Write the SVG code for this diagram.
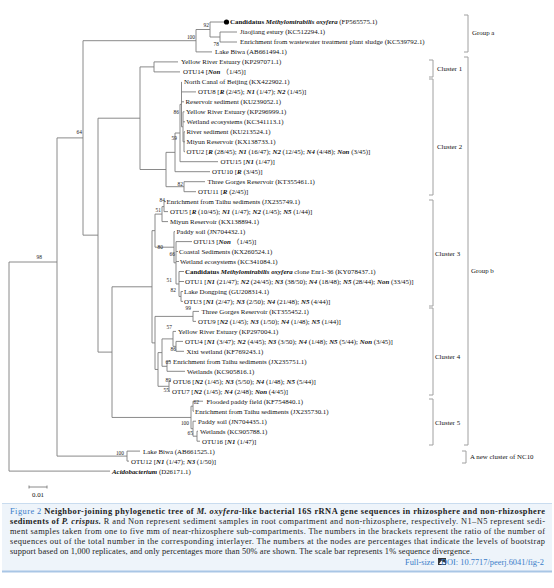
<svg xmlns="http://www.w3.org/2000/svg" width="554" height="588" viewBox="0 0 554 588">
<style>
.t{font-family:"Liberation Serif","Noto Sans CJK SC",serif;font-size:6.9px;fill:#111}
.b{font-weight:bold}.i{font-style:italic}.bi{font-weight:bold;font-style:italic}
.bs{font-family:"Liberation Serif",serif;font-size:5.4px;fill:#222;text-anchor:end}
.ln{fill:none;stroke:#7d7d7d;stroke-width:0.9}
.br{fill:none;stroke:#a0a0a0;stroke-width:1}
.lb{font-family:"Liberation Serif",serif;font-size:6.9px;fill:#111}
.cap{font-family:"Liberation Serif",serif;font-size:8.4px;fill:#222}
.blue{fill:#3a7dc9}
</style>
<rect width="554" height="588" fill="#fff"/>
<g id="connectors">
<path class="ln" d="M9,262V471.1M9,471.1H110M9,262H57
M57,137.9V456.1M57,137.9H83M57,456.1H127
M127,451.1V461.1M127,451.1H140M127,461.1H129
M83,40.7V235.15M83,40.7H196M83,235.15H98
M98,118.2V352.1M98,118.2H140M98,352.1H112
M196,29.5V51.9M196,51.9H212M196,29.5H210
M210,22V37M210,22H224M210,37H220
M220,32V42M220,32H237M220,42H237
M112,286.8V417.45M112,286.8H152M112,417.45H191
M140,66.9V169.5M140,66.9H154M140,169.5H166
M154,61.9V71.9M154,61.9H178M154,71.9H180
M166,152.35V186.7M166,152.35H175M166,186.7H184
M184,181.7V191.7M184,181.7H205M184,191.7H196
M175,133V171.7M175,133H180M175,171.7H210
M180,104.35V161.7M180,104.35H181.5M180,161.7H218
M181.5,81.9V126.8M181.5,91.9H196M181.5,101.8H184M181.5,126.8H183
M183,111.8V141.75M183,111.8H184.5M183,121.8H185M183,141.75H184
M184,131.8V151.7M184,131.8H185M184,141.8H185M184,151.7H185
M152,230.65V342.9M152,230.65H155M152,342.9H155
M155,214.1V247.2M155,214.1H162M155,247.2H174
M162,206.6V221.6M162,206.6H164M162,221.6H168
M164,201.6V211.6M164,201.6H166M164,211.6H168
M174,231.6V262.8M174,231.6H175M174,262.8H176
M176,241.6V283.98M176,241.6H192M176,251.5H178M176,261.5H179M176,283.98H179
M179,271.5V296.45M179,271.5H184M179,281.5H184M179,296.45H181
M181,291.5V301.4M181,291.5H183M181,301.4H183
M155,316.4V369.45M155,316.4H193M155,369.45H158
M193,311.4V321.4M193,311.4H199M193,321.4H196
M158,352.6V386.3M158,352.6H162M158,386.3H169
M162,338.9V366.3M162,338.9H173M162,366.3H167
M173,331.4V346.35M173,331.4H176M173,346.35H176
M176,341.4V351.3M176,341.4H183M176,351.3H184
M167,361.3V371.3M167,361.3H171M167,371.3H185
M169,381.3V391.3M169,381.3H171M169,391.3H170
M191,406.2V428.7M191,406.2H193M191,428.7H193
M193,401.2V411.2M193,401.2H203M193,411.2H194
M193,421.2V436.2M193,421.2H196M193,436.2H197
M197,431.2V441.2M197,431.2H198M197,441.2H200"/>
</g>
<g id="bootstrap">
<text class="bs" x="209" y="27">92</text>
<text class="bs" x="195" y="39">100</text>
<text class="bs" x="219" y="46">78</text>
<text class="bs" x="82" y="134">64</text>
<text class="bs" x="42" y="259">98</text>
<text class="bs" x="179" y="114">86</text>
<text class="bs" x="177" y="140">59</text>
<text class="bs" x="183" y="186">82</text>
<text class="bs" x="165" y="202">84</text>
<text class="bs" x="161" y="212">51</text>
<text class="bs" x="163" y="249">80</text>
<text class="bs" x="175" y="256">66</text>
<text class="bs" x="172" y="282">51</text>
<text class="bs" x="176" y="292">82</text>
<text class="bs" x="191" y="310">99</text>
<text class="bs" x="172" y="329">57</text>
<text class="bs" x="176" y="351">86</text>
<text class="bs" x="171" y="364">65</text>
<text class="bs" x="171" y="382">89</text>
<text class="bs" x="169" y="392">55</text>
<text class="bs" x="199" y="404">62</text>
<text class="bs" x="189" y="425">100</text>
<text class="bs" x="193" y="435">65</text>
<text class="bs" x="124" y="455">100</text>
</g>
<g id="leaves">
<circle cx="226.5" cy="22" r="2.6" fill="#000"/>
<text class="t" x="230" y="24.4"><tspan class="b">Candidatus </tspan><tspan class="bi">Methylomirabilis oxyfera</tspan> (FP565575.1)</text>
<text class="t" x="240" y="34.4">Jiaojiang estury (KC512294.1)</text>
<text class="t" x="240" y="44.4">Enrichment from wastewater treatment plant sludge (KC539792.1)</text>
<text class="t" x="215" y="54.3">Lake Biwa (AB661494.1)</text>
<text class="t" x="181" y="64.3">Yellow River Estuary (KP297071.1)</text>
<text class="t" x="183" y="74.3">OTU14 [<tspan class="bi">Non</tspan>  （1/45)]</text>
<text class="t" x="184" y="84.3">North Canal of Beijing (KX422902.1)</text>
<text class="t" x="198" y="94.3">OTU8 [<tspan class="bi">R</tspan> (2/45); <tspan class="bi">N1</tspan> (1/47); <tspan class="bi">N2</tspan> (1/45)]</text>
<text class="t" x="185.5" y="104.2">Reservoir sediment (KU239052.1)</text>
<text class="t" x="186" y="114.2">Yellow River Estuary (KP296999.1)</text>
<text class="t" x="186.5" y="124.2">Wetland ecosystems (KC341113.1)</text>
<text class="t" x="186.5" y="134.2">River sediment (KU213524.1)</text>
<text class="t" x="186.5" y="144.2">Miyun Reservoir (KX138733.1)</text>
<text class="t" x="186.5" y="154.1">OTU2 [<tspan class="bi">R</tspan> (28/45); <tspan class="bi">N1</tspan> (16/47); <tspan class="bi">N2</tspan> (12/45); <tspan class="bi">N4</tspan> (4/48); <tspan class="bi">Non</tspan> (3/45)]</text>
<text class="t" x="220.5" y="164.1">OTU15 [<tspan class="bi">N1</tspan> (1/47)]</text>
<text class="t" x="212" y="174.1">OTU10 [<tspan class="bi">R</tspan> (3/45)]</text>
<text class="t" x="207.5" y="184.1">Three Gorges Reservoir (KT355461.1)</text>
<text class="t" x="198" y="194.1">OTU11 [<tspan class="bi">R</tspan> (2/45)]</text>
<text class="t" x="166.5" y="204">Enrichment from Taihu sediments (JX235749.1)</text>
<text class="t" x="170" y="214">OTU5 [<tspan class="bi">R</tspan> (10/45); <tspan class="bi">N1</tspan> (1/47); <tspan class="bi">N2</tspan> (1/45); <tspan class="bi">N5</tspan> (1/44)]</text>
<text class="t" x="170" y="224">Miyun Reservoir (KX138894.1)</text>
<text class="t" x="176.5" y="234">Paddy soil (JN704432.1)</text>
<text class="t" x="193.5" y="244">OTU13 [<tspan class="bi">Non</tspan>  （1/45)]</text>
<text class="t" x="179" y="253.9">Coastal Sediments (KX260524.1)</text>
<text class="t" x="180" y="263.9">Wetland ecosystems (KC341084.1)</text>
<text class="t" x="185" y="273.9"><tspan class="b">Candidatus </tspan><tspan class="bi">Methylomirabilis oxyfera</tspan> clone Enr1-36 (KY078437.1)</text>
<text class="t" x="185" y="283.9">OTU1 [<tspan class="bi">N1</tspan> (21/47); <tspan class="bi">N2</tspan> (24/45); <tspan class="bi">N3</tspan> (38/50); <tspan class="bi">N4</tspan> (18/48); <tspan class="bi">N5</tspan> (28/44); <tspan class="bi">Non</tspan> (33/45)]</text>
<text class="t" x="184" y="293.9">Lake Dongping (GU208314.1)</text>
<text class="t" x="184" y="303.8">OTU3 [<tspan class="bi">N1</tspan> (2/47); <tspan class="bi">N3</tspan> (2/50); <tspan class="bi">N4</tspan> (21/48); <tspan class="bi">N5</tspan> (4/44)]</text>
<text class="t" x="201.5" y="313.8">Three Gorges Reservoir (KT355452.1)</text>
<text class="t" x="198" y="323.8">OTU9 [<tspan class="bi">N2</tspan> (1/45); <tspan class="bi">N3</tspan> (1/50); <tspan class="bi">N4</tspan> (1/48); <tspan class="bi">N5</tspan> (1/44)]</text>
<text class="t" x="178" y="333.8">Yellow River Estuary (KP297004.1)</text>
<text class="t" x="185" y="343.8">OTU4 [<tspan class="bi">N1</tspan> (3/47); <tspan class="bi">N2</tspan> (4/45); <tspan class="bi">N3</tspan> (3/50); <tspan class="bi">N4</tspan> (1/48); <tspan class="bi">N5</tspan> (5/44); <tspan class="bi">Non</tspan> (3/45)]</text>
<text class="t" x="186.5" y="353.7">Xixi wetland (KF769243.1)</text>
<text class="t" x="173" y="363.7">Enrichment from Taihu sediments (JX235751.1)</text>
<text class="t" x="187" y="373.7">Wetlands (KC905816.1)</text>
<text class="t" x="173" y="383.7">OTU6 [<tspan class="bi">N2</tspan> (1/45); <tspan class="bi">N3</tspan> (5/50); <tspan class="bi">N4</tspan> (1/48); <tspan class="bi">N5</tspan> (5/44)]</text>
<text class="t" x="172" y="393.7">OTU7 [<tspan class="bi">N2</tspan> (1/45); <tspan class="bi">N4</tspan> (2/48); <tspan class="bi">Non</tspan> (4/45)]</text>
<text class="t" x="206.5" y="403.6">Flooded paddy field (KF754840.1)</text>
<text class="t" x="195" y="413.6">Enrichment from Taihu sediments (JX235730.1)</text>
<text class="t" x="198" y="423.6">Paddy soil (JN704435.1)</text>
<text class="t" x="200" y="433.6">Wetlands (KC905788.1)</text>
<text class="t" x="202" y="443.6">OTU16 [<tspan class="bi">N1</tspan> (1/47)]</text>
<text class="t" x="143" y="453.5">Lake Biwa (AB661525.1)</text>
<text class="t" x="131" y="463.5">OTU12 [<tspan class="bi">N1</tspan> (1/47); <tspan class="bi">N3</tspan> (1/50)]</text>
<text class="t" x="112" y="473.5"><tspan class="bi">Acidobacterium</tspan> (D26171.1)</text>
</g>
<g id="brackets">
<path class="br" d="M464,15H468V52H464"/>
<text class="lb" x="472" y="35">Group a</text>
<path class="br" d="M429,60H433V77H429"/>
<text class="lb" x="437" y="71">Cluster 1</text>
<path class="br" d="M429,79H433V195H429"/>
<text class="lb" x="437" y="149">Cluster 2</text>
<path class="br" d="M429,200H433V306H429"/>
<text class="lb" x="435" y="256">Cluster 3</text>
<path class="br" d="M429,308H433V395H429"/>
<text class="lb" x="435" y="359">Cluster 4</text>
<path class="br" d="M429,399H433V445H429"/>
<text class="lb" x="435" y="425">Cluster 5</text>
<path class="br" d="M464,57H468V445H464"/>
<text class="lb" x="471" y="273">Group b</text>
<path class="br" d="M462,451H466V463H462"/>
<text class="lb" x="470" y="459">A new cluster of NC10</text>
</g>
<g id="scalebar">
<path class="ln" d="M29,487H47M29,485.5V488.5M47,485.5V488.5"/>
<text class="lb" x="38" y="497" text-anchor="middle">0.01</text>
</g>
<g id="caption">
<rect x="2" y="503" width="550" height="69" fill="#eef4fa"/>
<path d="M2,503.5H552" stroke="#c9dcef" stroke-width="1"/>
<path d="M2,571.5H552" stroke="#a9c6e5" stroke-width="2"/>
<text class="cap" x="10" y="514" textLength="535" lengthAdjust="spacing"><tspan class="blue">Figure 2 </tspan><tspan class="b">Neighbor-joining phylogenetic tree of </tspan><tspan class="bi">M. oxyfera</tspan><tspan class="b">-like bacterial 16S rRNA gene sequences in rhizosphere and non-rhizosphere</tspan></text>
<text class="cap" x="10" y="524" textLength="535" lengthAdjust="spacing"><tspan class="b">sediments of </tspan><tspan class="bi">P. crispus.</tspan> R and Non represent sediment samples in root compartment and non-rhizosphere, respectively. N1–N5 represent sedi-</text>
<text class="cap" x="10" y="534" textLength="535" lengthAdjust="spacing">ment samples taken from one to five mm of near-rhizosphere sub-compartments. The numbers in the brackets represent the ratio of the number of</text>
<text class="cap" x="10" y="544" textLength="535" lengthAdjust="spacing">sequences out of the total number in the corresponding interlayer. The numbers at the nodes are percentages that indicate the levels of bootstrap</text>
<text class="cap" x="10" y="554" textLength="462" lengthAdjust="spacing">support based on 1,000 replicates, and only percentages more than 50% are shown. The scale bar represents 1% sequence divergence.</text>
<text class="cap blue" x="405" y="565">Full-size</text>
<rect x="438" y="558" width="8" height="7" fill="#333"/>
<path d="M439,564L441.5,560.5L443,562.5L444,561.5L445.5,564Z" fill="#fff"/>
<text class="cap blue" x="544" y="565" text-anchor="end">DOI: 10.7717/peerj.6041/fig-2</text>
</g>
</svg>
